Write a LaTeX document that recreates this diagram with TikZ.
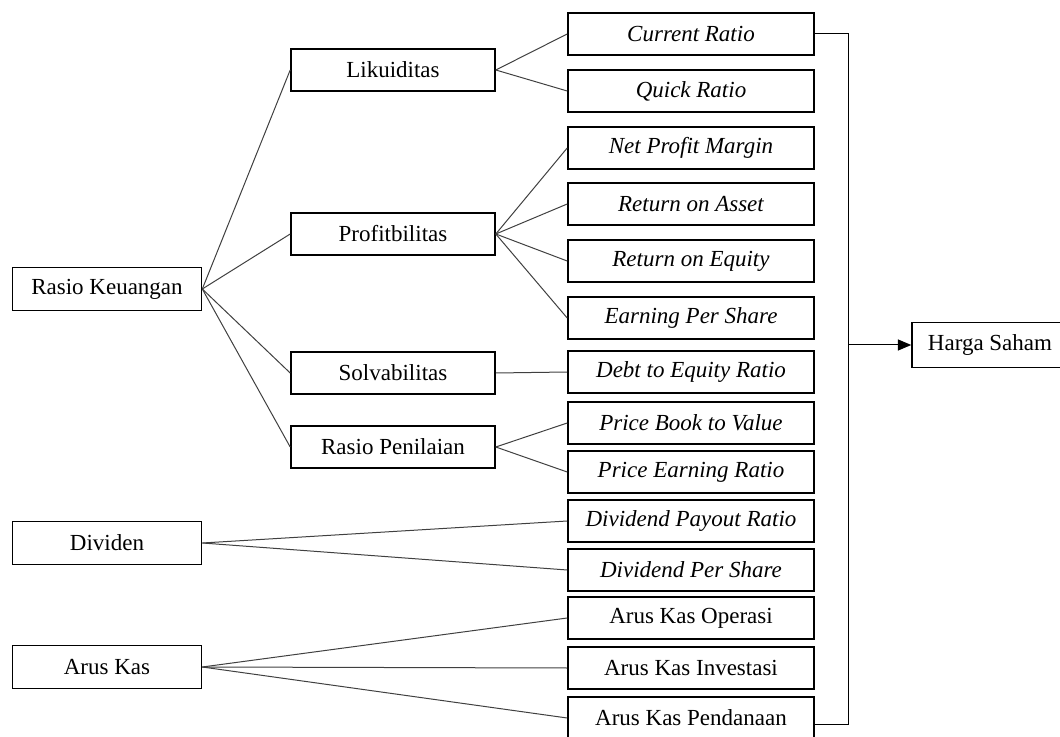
\documentclass[tikz,border=0pt]{standalone}
\usepackage{fontspec}
\setmainfont{Liberation Serif}
\usetikzlibrary{arrows}

\begin{document}
\begin{tikzpicture}[x=0.5pt,y=-0.5pt,>=triangle 45,
                    font=\fontsize{11.5}{13}\selectfont,
                    box/.style={draw,line width=0.8pt,inner sep=0pt},
                    lbox/.style={box,minimum width=94.5pt,minimum height=21.5pt},
                    mbox/.style={box,minimum width=102pt,minimum height=21pt},
                    rbox/.style={box,minimum width=123pt,minimum height=21pt},
                    ibox/.style={rbox,font=\fontsize{11.5}{13}\selectfont\itshape},
                    link/.style={draw=black!75,line width=0.5pt}]

  \useasboundingbox (0,0) rectangle (1060,737);

  % left column
  \node [lbox] (rk)  at (107,289) {Rasio Keuangan};
  \node [lbox] (div) at (107,543) {Dividen};
  \node [lbox] (ak)  at (107,667) {Arus Kas};

  % middle column
  \node [mbox] (lik)  at (393,70)  {Likuiditas};
  \node [mbox] (prof) at (393,234) {Profitbilitas};
  \node [mbox] (solv) at (393,373) {Solvabilitas};
  \node [mbox] (rp)   at (393,447) {Rasio Penilaian};

  % right column
  \node [ibox] (cr)  at (691,34)  {Current Ratio};
  \node [ibox] (qr)  at (691,91)  {Quick Ratio};
  \node [ibox] (npm) at (691,148) {Net Profit Margin};
  \node [ibox] (roa) at (691,204) {Return on Asset};
  \node [ibox] (roe) at (691,261) {Return on Equity};
  \node [ibox] (eps) at (691,318) {Earning Per Share};
  \node [ibox] (der) at (691,372) {Debt to Equity Ratio};
  \node [ibox] (pbv) at (691,423) {Price Book to Value};
  \node [ibox] (per) at (691,472) {Price Earning Ratio};
  \node [ibox] (dpr) at (691,521) {Dividend Payout Ratio};
  \node [ibox] (dps) at (691,570) {Dividend Per Share};
  \node [rbox] (ako) at (691,618) {Arus Kas Operasi};
  \node [rbox] (aki) at (691,668) {Arus Kas Investasi};
  \node [rbox] (akp) at (691,718) {Arus Kas Pendanaan};

  \node [box,minimum width=78pt,minimum height=22.5pt] (hs) at (990,345) {Harga Saham};

  \coordinate (bustop) at (848,34);
  \coordinate (busbot) at (848,724);

  \path [link] (rk.east) edge (lik.west)
                         edge (prof.west)
                         edge (solv.west)
                         edge (rp.west);
  \path [link] (lik.east) edge (cr.west)
                          edge (qr.west);
  \path [link] (prof.east) edge (npm.west)
                           edge (roa.west)
                           edge (roe.west)
                           edge (eps.west);
  \path [link] (solv.east) edge (der.west);
  \path [link] (rp.east) edge (pbv.west)
                         edge (per.west);
  \path [link] (div.east) edge (dpr.west)
                          edge (dps.west);
  \path [link] (ak.east) edge (ako.west)
                         edge (aki.west)
                         edge (akp.west);

  \draw [line width=0.5pt] (cr.east) -- (bustop) -- (busbot) -- (akp.east |- busbot);
  \draw [->,line width=0.5pt] (bustop |- hs) -- (hs.west);
\end{tikzpicture}
\end{document}
